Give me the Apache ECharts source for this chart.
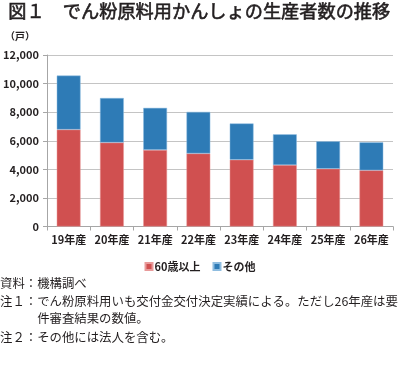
<!DOCTYPE html>
<html><head><meta charset="utf-8">
<script src="https://cdn.jsdelivr.net/npm/echarts@6/dist/echarts.min.js"></script>
<style>html,body{margin:0;padding:0;background:#fff}#c{width:400px;height:368px}</style>
</head><body><div id="c"></div>
<script>
var categories = ['19年産','20年産','21年産','22年産','23年産','24年産','25年産','26年産'];
var over60 = [6780, 5870, 5360, 5110, 4670, 4300, 4040, 3930];
var others = [3780, 3120, 2940, 2910, 2540, 2150, 1920, 1960];
var yTicks = { min: 0, max: 12000, interval: 2000 };
var seriesNames = ['60歳以上', 'その他'];
var titleText = '図１　でん粉原料用かんしょの生産者数の推移';
var unitText = '（戸）';
var notes = ['資料：機構調べ', '注１：でん粉原料用いも交付金交付決定実績による。ただし26年産は要', '　　　件審査結果の数値。', '注２：その他には法人を含む。'];

var font = '"Noto Sans CJK JP", "Noto Sans", sans-serif';
var chart = echarts.init(document.getElementById('c'), null, {renderer: 'canvas'});
var noteGraphics = notes.map(function (t, i) {
  var ys = [277, 295, 312, 331];
  return { type: 'text', left: 0, top: ys[i], style: { text: t, font: '12.4px ' + font, fill: '#231f20' } };
});
chart.setOption({
  animation: false,
  textStyle: { fontFamily: font },
  graphic: [
    { type: 'text', left: 8, top: 2, style: { text: titleText, font: '18.2px ' + font, fill: '#231f20', stroke: '#231f20', lineWidth: 0.6 } },
    { type: 'text', left: 5, top: 31, style: { text: unitText, font: 'bold 10px ' + font, fill: '#231f20' } }
  ].concat(noteGraphics),
  legend: {
    data: seriesNames, top: 256, left: 'center', itemWidth: 7, itemHeight: 7, itemGap: 12,
    icon: 'rect', textStyle: { fontSize: 11, fontWeight: 'bold', color: '#231f20', fontFamily: font, padding: [0,0,0,-3] }
  },
  grid: { left: 45, right: 7, top: 55, bottom: 141.5, containLabel: false },
  xAxis: {
    type: 'category', data: categories,
    axisLine: { lineStyle: { color: '#a6a6a6' } },
    axisTick: { show: true, length: 4, lineStyle: { color: '#a6a6a6' } },
    axisLabel: { interval: 0, fontSize: 11, fontWeight: 'bold', color: '#231f20', margin: 8 }
  },
  yAxis: {
    type: 'value', min: yTicks.min, max: yTicks.max, interval: yTicks.interval,
    axisLine: { show: true, lineStyle: { color: '#a6a6a6' } },
    axisTick: { show: true, length: 4, lineStyle: { color: '#a6a6a6' } },
    splitLine: { lineStyle: { color: '#c4c4c4' } },
    axisLabel: { fontSize: 11, fontWeight: 'bold', color: '#231f20', margin: 8,
      formatter: function (v) { return v.toLocaleString('en-US'); } }
  },
  series: [
    { name: seriesNames[0], type: 'bar', stack: 't', data: over60, barWidth: '55%',
      itemStyle: { color: '#d05050', borderColor: '#e89a9a', borderWidth: 0.5 } },
    { name: seriesNames[1], type: 'bar', stack: 't', data: others, barWidth: '55%',
      itemStyle: { color: '#2e7bb6', borderColor: '#8fbde0', borderWidth: 0.5 } }
  ]
});
</script></body></html>
